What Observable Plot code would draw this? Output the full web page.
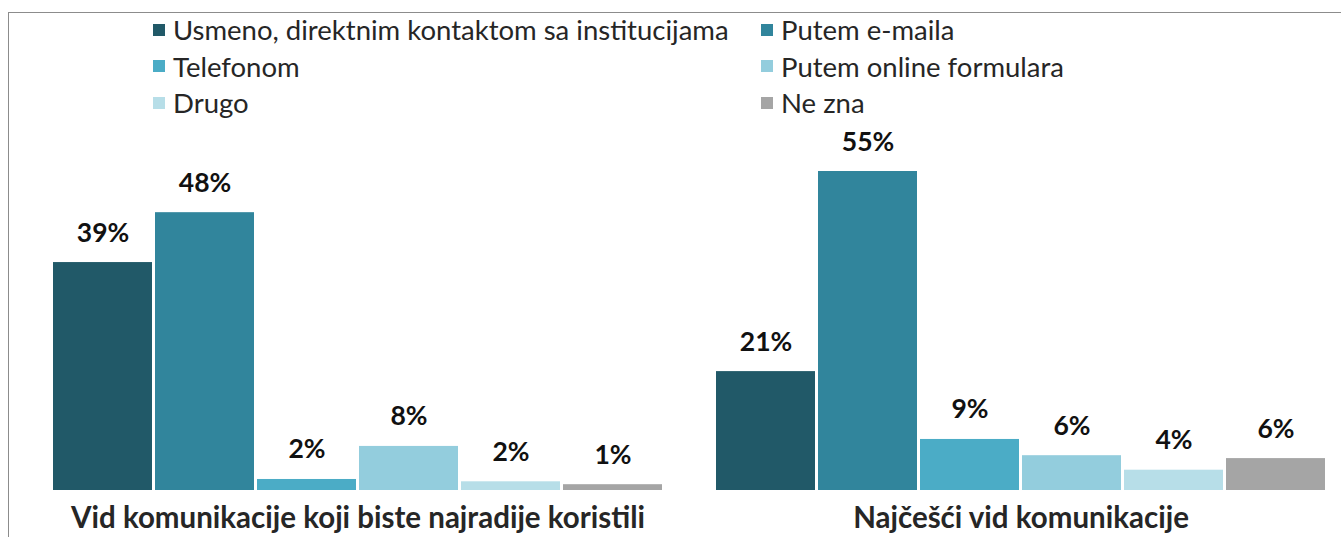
<!DOCTYPE html>
<html>
<head>
<meta charset="utf-8">
<script src="https://cdn.jsdelivr.net/npm/d3@7"></script>
<script src="https://cdn.jsdelivr.net/npm/@observablehq/plot@0.6"></script>
<style>
  html, body { margin: 0; padding: 0; background: #fff; }
  body { position: relative; width: 1341px; height: 537px; overflow: hidden; font-family: Lato, "Open Sans", sans-serif; }
  #frame { position: absolute; left: 8px; top: 12px; width: 1400px; height: 600px; border: 1px solid #8c8c8c; box-sizing: border-box; }
  #legend { position: absolute; left: 0; top: 0; width: 1341px; height: 120px; }
  .item { position: absolute; display: flex; align-items: center; height: 36px; font-size: 27.5px; color: #262626; white-space: nowrap; }
  .sw { width: 12px; height: 12px; margin-right: 8px; flex: none; }
  #chart { position: absolute; left: 0; top: 120px; }
</style>
</head>
<body>
<div id="frame"></div>
<div id="legend"></div>
<div id="chart"></div>
<script>
const groups = ["Vid komunikacije koji biste najradije koristili", "Najčešći vid komunikacije"];
const categories = ["Usmeno, direktnim kontaktom sa institucijama", "Putem e-maila", "Telefonom", "Putem online formulara", "Drugo", "Ne zna"];
const colors = ["#215968", "#31859C", "#4BACC6", "#93CDDD", "#B7DEE8", "#A5A5A5"];
const preferred = [39.3, 47.9, 1.9, 7.6, 1.5, 1.0];
const mostCommon = [20.5, 55.0, 8.8, 6.0, 3.5, 5.5];

const data = [];
categories.forEach((c, i) => data.push({group: groups[0], category: c, value: preferred[i]}));
categories.forEach((c, i) => data.push({group: groups[1], category: c, value: mostCommon[i]}));

// legend (two columns, three rows)
const legend = document.getElementById("legend");
const colX = [153, 761];
const rowY = [29.5, 66, 102.5];
categories.forEach((c, i) => {
  const el = document.createElement("div");
  el.className = "item";
  el.style.left = colX[i % 2] + "px";
  el.style.top = (rowY[Math.floor(i / 2)] - 18) + "px";
  const sw = document.createElement("span");
  sw.className = "sw";
  sw.style.background = colors[i];
  el.appendChild(sw);
  el.appendChild(document.createTextNode(c));
  legend.appendChild(el);
});

const chart = Plot.plot({
  width: 1341,
  height: 417,
  marginLeft: 52,
  marginRight: 15,
  marginTop: 0,
  marginBottom: 47,
  style: {fontFamily: "Lato, 'Open Sans', sans-serif", background: "transparent", overflow: "hidden"},
  fx: {domain: groups, paddingInner: 0.0813, paddingOuter: 0, label: null},
  x: {domain: categories, paddingInner: 0.03, paddingOuter: 0, axis: null},
  y: {domain: [0, 370 / 5.8], axis: null},
  color: {domain: categories, range: colors},
  marks: [
    Plot.barY(data, {fx: "group", x: "category", y: "value", fill: "category"}),
    Plot.text(data, {fx: "group", x: "category", y: "value", text: d => Math.round(d.value) + "%", dy: -21, lineAnchor: "bottom", fontSize: 26.5, fontWeight: "bold", fill: "#111"}),
    Plot.axisFx({anchor: "bottom", tickSize: 0, tickPadding: 17, fontSize: 29.5, fontWeight: "bold", color: "#262626", label: null})
  ]
});
document.getElementById("chart").appendChild(chart);
</script>
</body>
</html>
